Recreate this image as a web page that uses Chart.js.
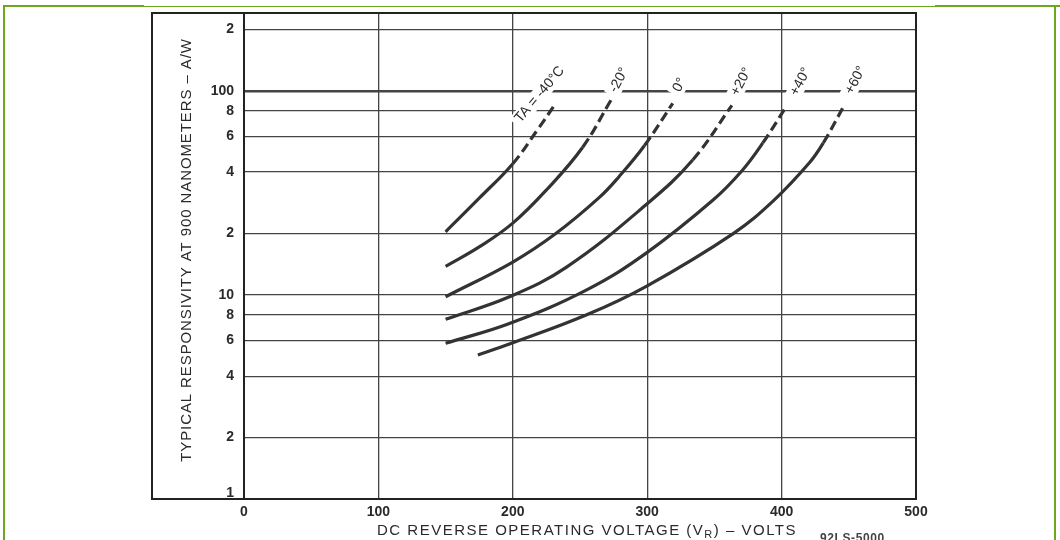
<!DOCTYPE html>
<html><head><meta charset="utf-8">
<script src="https://cdn.jsdelivr.net/npm/chart.js@4.4.1/dist/chart.umd.min.js"></script>
<style>
html,body{margin:0;padding:0;background:#fff;}
#wrap{position:relative;width:1060px;height:540px;overflow:hidden;background:#fff;}
#c{position:absolute;left:0;top:0;}
.g{position:absolute;background:#6ca81c;}
#note{position:absolute;left:820px;top:531px;font:bold 12px "Liberation Sans",Arial,sans-serif;color:#444;letter-spacing:0.6px;}
</style></head><body>
<div id="wrap">
<canvas id="c" width="1060" height="540"></canvas>
<div class="g" style="left:3px;top:5px;width:2px;height:535px"></div>
<div class="g" style="left:3px;top:5px;width:141px;height:2px"></div>
<div class="g" style="left:144px;top:6px;width:791px;height:1px"></div>
<div class="g" style="left:935px;top:5px;width:125px;height:2px"></div>
<div class="g" style="left:1054px;top:5px;width:2px;height:535px"></div>
<div id="note">92LS-5000</div>
</div>
<script>
// ---- data (volts, A/W) ----
const vM40 = [150, 175, 200, 218, 232];
const rM40 = [20.4, 29.8, 44, 64, 87];
const vM20 = [150, 175, 200, 225, 252, 273];
const rM20 = [13.8, 17.2, 22.5, 32.7, 53, 90];
const v0 = [150, 200, 232, 264, 279, 298, 319];
const r0 = [9.8, 14.5, 20, 29.9, 38, 54, 87];
const vP20 = [150, 197.5, 240, 300, 334, 363];
const rP20 = [7.6, 9.8, 13.7, 28, 46, 85];
const vP40 = [150, 197.5, 255, 299, 349, 371, 386, 404];
const rP40 = [5.8, 7.25, 10.6, 16, 29.2, 41, 55.6, 85];
const vP60 = [174, 197.5, 255, 299, 364, 394, 421, 431, 447];
const rP60 = [5.08, 5.75, 8, 11, 20, 29, 44.7, 55.6, 86];
// voltage above which each curve is drawn dashed
const dashFromV = [200, 252, 298, 334, 386, 431];

const curveLabels = ['TA = -40°C', '-20°', '0°', '+20°', '+40°', '+60°'];
const labelV = [220, 279, 324, 370, 414, 455];
const labelR = [96, 113, 107, 111, 111, 113];
const labelAngle = [-50, -62, -62, -62, -62, -62];

const xTickValues = [0, 100, 200, 300, 400, 500];
const yTickValues = [1, 2, 4, 6, 8, 10, 20, 40, 60, 80, 100, 200];
const yTickLabels = ['1', '2', '4', '6', '8', '10', '2', '4', '6', '8', '100', '2'];

const yTitle = 'TYPICAL RESPONSIVITY AT 900 NANOMETERS – A/W';
const xTitleParts = ['DC REVERSE OPERATING VOLTAGE (V', 'R', ') – VOLTS'];

const FONT = '"Liberation Sans", Arial, Helvetica, sans-serif';
const INK = '#2a2a2a';
const TICKFONT = {family: FONT, size: 14, weight: 'bold'};

const series = [[vM40, rM40], [vM20, rM20], [v0, r0], [vP20, rP20], [vP40, rP40], [vP60, rP60]];
const datasets = series.map(([vs, rs], i) => ({
  label: curveLabels[i],
  data: vs.map((v, k) => ({x: v, y: rs[k]})),
  borderColor: '#333',
  borderWidth: 3.2,
  pointRadius: 0,
  fill: false,
  tension: 0.4,
  borderCapStyle: 'butt',
  segment: {
    borderDash: ctx => (ctx.p0.parsed.x >= dashFromV[i] - 0.01 ? [10, 5] : undefined)
  }
}));

const extras = {
  id: 'extras',
  afterDraw(chart) {
    const {ctx, chartArea: a, scales: {x, y}} = chart;
    ctx.save();
    // curve labels
    ctx.font = '14px ' + FONT;
    ctx.textAlign = 'center';
    ctx.textBaseline = 'middle';
    curveLabels.forEach((t, i) => {
      const px = x.getPixelForValue(labelV[i]);
      const py = y.getPixelForValue(labelR[i]);
      ctx.save();
      ctx.translate(px, py);
      ctx.rotate(labelAngle[i] * Math.PI / 180);
      const w = ctx.measureText(t).width;
      ctx.fillStyle = '#fff';
      ctx.fillRect(-w / 2 - 4, -8, w + 8, 16);
      ctx.fillStyle = INK;
      ctx.fillText(t, 0, 0);
      ctx.restore();
    });
    // outer frame
    ctx.strokeStyle = '#222';
    ctx.lineWidth = 2;
    ctx.strokeRect(y.left, a.top, a.right - y.left, a.bottom - a.top);
    // bottom tick label "1", lifted off the frame line as in the original
    ctx.font = 'bold 14px ' + FONT;
    ctx.fillStyle = INK;
    ctx.textAlign = 'right';
    ctx.textBaseline = 'middle';
    ctx.fillText(yTickLabels[0], a.left - 10, y.getPixelForValue(yTickValues[0]) - 6);
    // y title
    ctx.save();
    ctx.font = '15px ' + FONT;
    try { ctx.letterSpacing = '0.9px'; } catch (e) {}
    ctx.textAlign = 'center';
    ctx.textBaseline = 'middle';
    ctx.translate(y.left + 35, (a.top + a.bottom) / 2 - 6);
    ctx.rotate(-Math.PI / 2);
    ctx.fillText(yTitle, 0, 0);
    ctx.restore();
    // x title with subscript
    try { ctx.letterSpacing = '1.5px'; } catch (e) {}
    const big = '15px ' + FONT, small = '11px ' + FONT;
    ctx.font = big; const w1 = ctx.measureText(xTitleParts[0]).width;
    ctx.font = small; const w2 = ctx.measureText(xTitleParts[1]).width;
    ctx.font = big; const w3 = ctx.measureText(xTitleParts[2]).width;
    const total = w1 + w2 + w3;
    let sx = (a.left + a.right) / 2 + 7 - total / 2;
    const base = a.bottom + 36;
    ctx.textAlign = 'left';
    ctx.textBaseline = 'alphabetic';
    ctx.font = big; ctx.fillText(xTitleParts[0], sx, base); sx += w1;
    ctx.font = small; ctx.fillText(xTitleParts[1], sx, base + 3); sx += w2;
    ctx.font = big; ctx.fillText(xTitleParts[2], sx, base);
    ctx.restore();
  }
};

new Chart(document.getElementById('c'), {
  type: 'line',
  data: {datasets},
  plugins: [extras],
  options: {
    responsive: false,
    devicePixelRatio: 1,
    animation: false,
    layout: {padding: {left: 152, right: 144, top: 13, bottom: 0}},
    plugins: {legend: {display: false}, tooltip: {enabled: false}},
    scales: {
      x: {
        type: 'linear', min: 0, max: 500,
        afterBuildTicks: s => { s.ticks = xTickValues.map(v => ({value: v})); },
        afterFit: s => { s.height = 41; s.paddingLeft = 0; s.paddingRight = 0; },
        grid: {color: '#444', lineWidth: 1.3, drawTicks: false},
        border: {display: true, color: '#222', width: 2},
        ticks: {color: INK, padding: 5, font: TICKFONT, autoSkip: false, maxRotation: 0}
      },
      y: {
        type: 'logarithmic', min: 1, max: 241,
        afterBuildTicks: s => { s.ticks = yTickValues.map(v => ({value: v})); },
        afterFit: s => { s.width = 92; s.paddingTop = 0; s.paddingBottom = 0; },
        grid: {
          color: '#444',
          lineWidth: c => (c.tick && c.tick.value === 100 ? 2.4 : 1.3),
          drawTicks: false
        },
        border: {display: true, color: '#222', width: 2},
        ticks: {
          color: INK, padding: 10, autoSkip: false,
          font: TICKFONT,
          callback: (v, i) => (i === 0 ? '' : yTickLabels[i])
        },
        title: {display: false}
      }
    }
  }
});
</script>
</body></html>
